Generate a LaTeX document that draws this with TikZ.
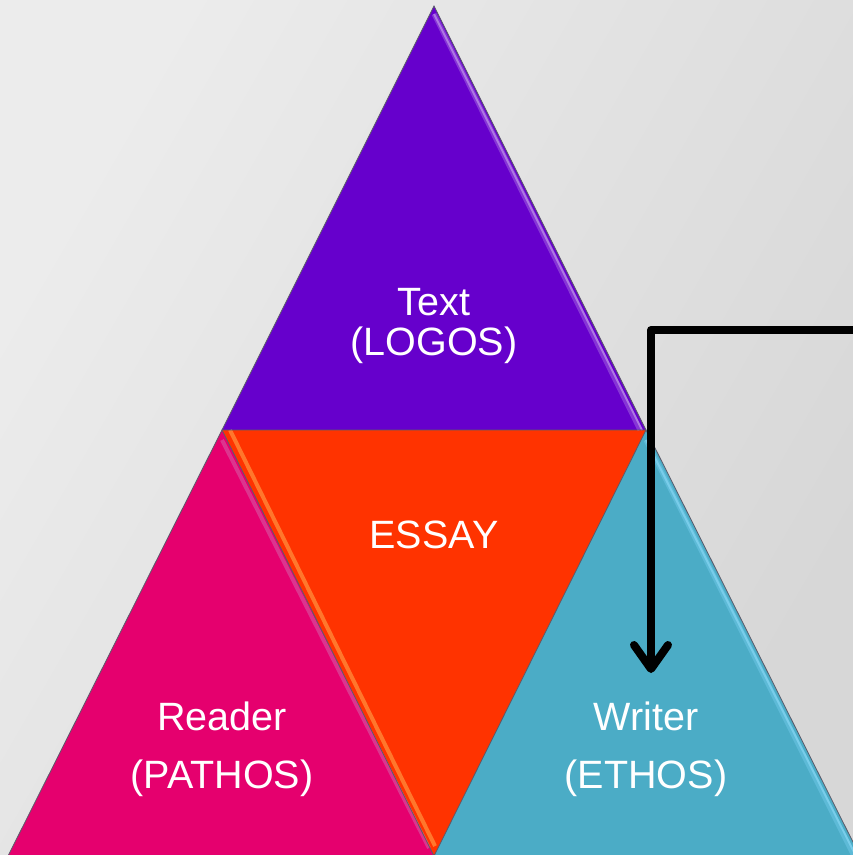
\documentclass[tikz,border=0pt]{standalone}
\usepackage{fontspec}
\setmainfont{Liberation Sans}
\usetikzlibrary{arrows.meta,calc}
\definecolor{bgA}{HTML}{ECECEC}
\definecolor{bgB}{HTML}{D7D7D7}
\definecolor{logos}{HTML}{6600CC}
\definecolor{essay}{HTML}{FF3300}
\definecolor{pathos}{HTML}{E5006E}
\definecolor{ethos}{HTML}{4BACC6}
\definecolor{edgegray}{HTML}{5A5A6A}
\tikzset{
  tri/.style={draw=edgegray, line width=0.8pt, line join=miter},
  glow/.style={line width=5pt, opacity=0.35},
  glowcore/.style={line width=2pt, opacity=0.6},
  lbl/.style={text=white, align=center, inner sep=0pt, font=\fontsize{39.5}{40}\selectfont},
  lblwide/.style={lbl, font=\fontsize{39.5}{58}\selectfont},
  connector/.style={line width=8pt, line join=round, line cap=round,
    -{Straight Barb[length=24pt, width=34pt, round]}}
}
\begin{document}
\begin{tikzpicture}[x=1pt, y=1pt]
\useasboundingbox (0,0) rectangle (853,-855);
\clip (0,0) rectangle (853,-855);
\shade[shading=axis, left color=bgA, right color=bgB, shading angle=60] (0,0) rectangle (853,-855);
% vertices
\coordinate (A) at (434,-6);
\coordinate (L) at (222,-430);
\coordinate (R) at (646,-430);
\coordinate (BL) at (8,-856);
\coordinate (BM) at (434,-856);
\coordinate (BR) at (860,-856);
% triangles
\fill[logos] (A) -- (R) -- (L) -- cycle;
\fill[pathos] (L) -- (BM) -- (BL) -- cycle;
\fill[ethos] (R) -- (BR) -- (BM) -- cycle;
\fill[essay] (L) -- (R) -- (BM) -- cycle;
% bevel highlights
\draw[glow, color=logos!40!white] ($(A)+(0,-8)$) -- ($(R)+(-6,0)$);
\draw[glowcore, color=logos!35!white] ($(A)+(0,-8)$) -- ($(R)+(-4,0)$);
\draw[glow, color=cyan!50!white] ($(R)+(0,-10)$) -- ($(BR)+(-6,0)$);
\draw[glowcore, color=cyan!45!white] ($(R)+(0,-10)$) -- ($(BR)+(-4,0)$);
\draw[glow, color=yellow!50!white, line width=4pt] ($(L)+(8,0)$) -- ($(BM)+(1,10)$);
\draw[glow, color=violet!40!white, line width=4pt] ($(L)+(0,-10)$) -- ($(BM)+(-5,8)$);
% outlines
\draw[tri] (A) -- (R) -- (L) -- cycle;
\draw[tri] (L) -- (BM) -- (BL) -- cycle;
\draw[tri] (R) -- (BR) -- (BM) -- cycle;
% labels
\node[lbl] (logosLabel) at (434,-326) {Text\\(LOGOS)};
\node[lbl] (essayLabel) at (434,-535) {ESSAY};
\node[lblwide] (pathosLabel) at (222,-749) {Reader\\(PATHOS)};
\node[lblwide] (ethosLabel) at (646,-749) {Writer\\(ETHOS)};
% connector
\coordinate (arrowStart) at (856,-330);
\coordinate (arrowEnd) at (651,-673);
\draw[connector] (arrowStart) -| (arrowEnd);
\end{tikzpicture}
\end{document}
